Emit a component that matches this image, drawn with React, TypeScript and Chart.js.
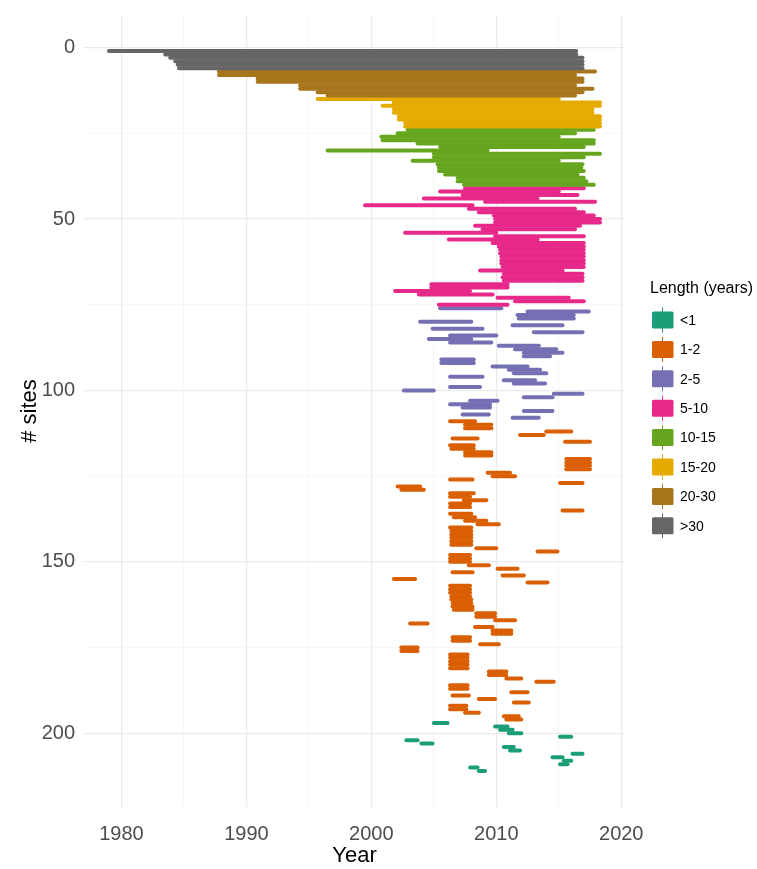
import React, { useEffect, useRef } from "react";
import { Chart, registerables } from "chart.js";

Chart.register(...registerables);

const FONT = "'Liberation Sans', Arial, Helvetica, sans-serif";

const legendLabels = ["<1", "1-2", "2-5", "5-10", "10-15", "15-20", "20-30", ">30"];
const legendColors = ["#1B9E77", "#D95F02", "#7570B3", "#E7298A", "#66A61E", "#E6AB02", "#A6761D", "#666666"];

// Sites are stacked top to bottom in this order: >30, 20-30, 15-20, 10-15, 5-10, 2-5, 1-2, <1
const over30Start = [1979.0, 1983.5, 1983.9, 1984.3, 1984.5, 1984.6];
const over30End = [2016.4, 2016.4, 2016.9, 2016.9, 2016.9, 2016.9];

const y20to30Start = [1987.8, 1987.8, 1990.9, 1990.9, 1994.3, 1994.3, 1995.7, 1996.5];
const y20to30End = [2017.9, 2016.3, 2016.9, 2016.9, 2016.3, 2017.7, 2016.9, 2016.3];

const y15to20Start = [1995.7, 2001.8, 2000.9, 2001.8, 2001.8, 2002.2, 2002.2, 2002.7, 2002.7];
const y15to20End = [2015.0, 2018.3, 2018.3, 2017.7, 2017.7, 2018.3, 2018.3, 2018.3, 2018.3];

const y10to15Start = [2002.9, 2002.1, 2000.8, 2000.9, 2003.7, 2005.5, 1996.5, 2005.0, 2005.0, 2003.3, 2005.3, 2005.4, 2005.4, 2005.9, 2006.9, 2006.9, 2007.4];
const y10to15End = [2017.8, 2016.3, 2015.0, 2017.8, 2017.8, 2017.0, 2009.3, 2018.3, 2017.0, 2015.0, 2016.9, 2016.8, 2017.0, 2016.5, 2017.0, 2017.2, 2017.8];

const y5to10Start = [2007.5, 2005.5, 2007.3, 2004.2, 2009.1, 1999.5, 2007.8, 2008.6, 2009.8, 2009.9, 2009.9, 2008.3, 2008.9, 2002.7, 2009.9, 2006.2, 2009.7, 2010.2, 2010.3, 2010.3, 2010.4, 2010.4, 2010.4, 2010.5, 2008.7, 2010.6, 2010.5, 2010.6, 2004.8, 2004.8, 2001.9, 2003.8, 2010.1, 2011.5, 2005.4];
const y5to10End = [2017.0, 2015.0, 2016.5, 2013.3, 2017.9, 2008.1, 2016.3, 2017.0, 2017.8, 2018.3, 2018.3, 2016.7, 2016.3, 2010.0, 2017.0, 2013.3, 2017.0, 2017.0, 2017.0, 2017.0, 2017.0, 2017.0, 2017.0, 2017.0, 2015.3, 2016.9, 2016.9, 2016.9, 2010.9, 2010.9, 2007.9, 2009.7, 2015.8, 2017.0, 2010.9];

const y2to5Start = [2005.5, 2012.5, 2011.7, 2011.8, 2003.9, 2011.3, 2004.9, 2013.0, 2006.3, 2004.6, 2006.3, 2010.2, 2011.5, 2012.2, 2012.2, 2005.6, 2005.6, 2009.7, 2011.0, 2011.4, 2006.3, 2010.6, 2011.4, 2006.3, 2002.6, 2014.6, 2012.2, 2007.9, 2006.3, 2007.3, 2012.2, 2007.3, 2011.3];
const y2to5End = [2010.4, 2017.4, 2016.2, 2016.2, 2008.0, 2015.3, 2008.9, 2016.9, 2010.0, 2008.0, 2009.6, 2013.4, 2014.8, 2015.3, 2014.3, 2008.2, 2008.2, 2012.5, 2013.5, 2014.0, 2008.9, 2013.1, 2013.9, 2008.7, 2005.0, 2016.9, 2014.5, 2010.1, 2009.5, 2009.5, 2014.5, 2009.4, 2013.4];

const y1to2Start = [
  2006.3, 2007.5, 2007.5, 2014.0, 2011.9, 2006.5, 2015.5, 2006.3, 2006.4, 2007.5,
  2007.5, 2015.6, 2015.6, 2015.6, 2015.6, 2009.3, 2009.7, 2006.3, 2015.1, 2002.1,
  2002.4, 2006.3, 2006.3, 2007.4, 2006.3, 2006.3, 2015.3, 2006.3, 2006.6, 2007.5,
  2008.5, 2006.3, 2006.4, 2006.4, 2006.4, 2006.4, 2006.4, 2008.4, 2013.3, 2006.3,
  2006.3, 2006.3, 2007.8, 2010.1, 2006.5, 2010.5, 2001.8, 2012.5, 2006.3, 2006.3,
  2006.3, 2006.4, 2006.4, 2006.5, 2006.5, 2006.6, 2008.4, 2008.4, 2009.9, 2003.1,
  2008.3, 2009.7, 2009.7, 2006.5, 2006.5, 2008.7, 2002.4, 2002.4, 2006.3, 2006.3,
  2006.3, 2006.3, 2006.3, 2009.4, 2009.4, 2010.8, 2013.2, 2006.3, 2006.3, 2011.2,
  2006.5, 2008.6, 2011.4, 2006.3, 2006.3, 2007.5, 2010.6, 2010.8
];
const y1to2End = [
  2008.3, 2009.6, 2009.6, 2016.0, 2013.8, 2008.5, 2017.5, 2008.2, 2008.2, 2009.6,
  2009.6, 2017.5, 2017.5, 2017.5, 2017.5, 2011.1, 2011.5, 2008.1, 2016.9, 2003.9,
  2004.2, 2008.2, 2007.9, 2009.2, 2007.9, 2007.9, 2016.9, 2008.0, 2008.3, 2009.2,
  2010.2, 2008.0, 2008.0, 2008.0, 2008.0, 2008.0, 2008.0, 2010.0, 2014.9, 2007.9,
  2007.9, 2007.9, 2009.4, 2011.7, 2008.1, 2012.2, 2003.5, 2014.1, 2007.9, 2007.9,
  2007.9, 2007.9, 2008.0, 2008.0, 2008.1, 2008.1, 2009.9, 2009.9, 2011.5, 2004.5,
  2009.7, 2011.2, 2011.2, 2007.9, 2007.9, 2010.2, 2003.7, 2003.7, 2007.7, 2007.7,
  2007.7, 2007.7, 2007.7, 2010.8, 2010.8, 2012.0, 2014.6, 2007.7, 2007.7, 2012.5,
  2007.8, 2009.9, 2012.6, 2007.6, 2007.6, 2008.6, 2011.8, 2012.0
];

const under1Start = [2005.0, 2009.9, 2010.3, 2011.0, 2015.1, 2002.8, 2004.0, 2010.6, 2011.1, 2016.1, 2014.5, 2015.4, 2015.1, 2007.9, 2008.6];
const under1End = [2006.1, 2010.9, 2011.3, 2012.0, 2016.0, 2003.7, 2004.9, 2011.4, 2011.9, 2016.9, 2015.3, 2016.0, 2015.7, 2008.5, 2009.1];

const xTickValues = [1980, 1985, 1990, 1995, 2000, 2005, 2010, 2015, 2020];
const xTickLabels = ["1980", "", "1990", "", "2000", "", "2010", "", "2020"];
const yTickValues = [0, 25, 50, 75, 100, 125, 150, 175, 200];
const yTickLabels = ["0", "", "50", "", "100", "", "150", "", "200"];

const groups = [
  { cat: ">30", starts: over30Start, ends: over30End },
  { cat: "20-30", starts: y20to30Start, ends: y20to30End },
  { cat: "15-20", starts: y15to20Start, ends: y15to20End },
  { cat: "10-15", starts: y10to15Start, ends: y10to15End },
  { cat: "5-10", starts: y5to10Start, ends: y5to10End },
  { cat: "2-5", starts: y2to5Start, ends: y2to5End },
  { cat: "1-2", starts: y1to2Start, ends: y1to2End },
  { cat: "<1", starts: under1Start, ends: under1End },
];

function buildDatasets() {
  const ds: any[] = [];
  let site = 1;
  groups.forEach((g) => {
    const color = legendColors[legendLabels.indexOf(g.cat)];
    g.starts.forEach((s, k) => {
      ds.push({
        label: g.cat,
        data: [
          { x: s, y: site },
          { x: g.ends[k], y: site },
        ],
        borderColor: color,
        backgroundColor: color,
        borderWidth: 4,
        borderCapStyle: "round",
        pointRadius: 0,
        fill: false,
        tension: 0,
      });
      site += 1;
    });
  });
  return ds;
}

const ggLegend = {
  id: "ggLegend",
  afterDraw(chart: any) {
    const ctx = chart.ctx;
    ctx.save();
    ctx.fillStyle = "#000000";
    ctx.textAlign = "left";
    ctx.textBaseline = "middle";
    ctx.font = `16px ${FONT}`;
    ctx.fillText("Length (years)", 650, 289);
    ctx.font = `14px ${FONT}`;
    legendLabels.forEach((lab, k) => {
      const cy = 320 + k * 29.4;
      const color = legendColors[k];
      ctx.strokeStyle = color;
      ctx.lineWidth = 1;
      ctx.beginPath();
      ctx.moveTo(662.5, cy - 12.5);
      ctx.lineTo(662.5, cy + 12.5);
      ctx.stroke();
      ctx.fillStyle = color;
      ctx.beginPath();
      ctx.roundRect(652, cy - 8.5, 21.5, 17, 1.5);
      ctx.fill();
      ctx.fillStyle = "#000000";
      ctx.fillText(lab, 680, cy + 1);
    });
    ctx.restore();
  },
};

export default function App() {
  const ref = useRef<HTMLCanvasElement | null>(null);
  useEffect(() => {
    if (!ref.current) return;
    const chart = new Chart(ref.current, {
      type: "line",
      data: { datasets: buildDatasets() },
      plugins: [ggLegend],
      options: {
        animation: false,
        responsive: false,
        devicePixelRatio: 1,
        events: [],
        layout: { padding: { left: 0, right: 132, top: 15, bottom: 0 } },
        plugins: { legend: { display: false }, tooltip: { enabled: false } },
        scales: {
          x: {
            type: "linear",
            min: 1977,
            max: 2020.3,
            afterBuildTicks: (s: any) => {
              s.ticks = xTickValues.map((v) => ({ value: v }));
            },
            afterFit: (s: any) => {
              s.height = 62;
              s.paddingLeft = 0;
              s.paddingRight = 0;
              s.paddingTop = 0;
              s.paddingBottom = 0;
            },
            border: { display: false },
            grid: {
              drawTicks: false,
              color: (c: any) => (c.tick && c.tick.value % 10 === 0 ? "#EBEBEB" : "#F3F3F3"),
              lineWidth: (c: any) => (c.tick && c.tick.value % 10 === 0 ? 1.3 : 0.7),
            },
            ticks: {
              autoSkip: false,
              maxRotation: 0,
              padding: 15,
              color: "#4D4D4D",
              font: { family: FONT, size: 20 },
              callback: (_v: any, i: number) => xTickLabels[i],
            },
            title: {
              display: true,
              text: "Year",
              color: "#000000",
              font: { family: FONT, size: 22 },
              padding: { top: 0, bottom: 0 },
            },
          },
          y: {
            type: "linear",
            reverse: true,
            min: -9.5,
            max: 221.5,
            afterBuildTicks: (s: any) => {
              s.ticks = yTickValues.map((v) => ({ value: v }));
            },
            afterFit: (s: any) => {
              s.width = 84;
              s.paddingLeft = 0;
              s.paddingRight = 0;
              s.paddingTop = 0;
              s.paddingBottom = 0;
            },
            border: { display: false },
            grid: {
              drawTicks: false,
              color: (c: any) => (c.tick && c.tick.value % 50 === 0 ? "#EBEBEB" : "#F3F3F3"),
              lineWidth: (c: any) => (c.tick && c.tick.value % 50 === 0 ? 1.3 : 0.7),
            },
            ticks: {
              autoSkip: false,
              padding: 9,
              color: "#4D4D4D",
              font: { family: FONT, size: 20 },
              callback: (_v: any, i: number) => yTickLabels[i],
            },
            title: {
              display: true,
              text: "# sites",
              color: "#000000",
              font: { family: FONT, size: 22 },
              padding: { top: 17, bottom: 0 },
            },
          },
        },
      },
    });
    return () => chart.destroy();
  }, []);
  return (
    <div style={{ position: "fixed", left: 0, top: 0, width: 757, height: 869, background: "#ffffff" }}>
      <canvas ref={ref} width={757} height={869} style={{ display: "block", width: 757, height: 869 }} />
    </div>
  );
}
